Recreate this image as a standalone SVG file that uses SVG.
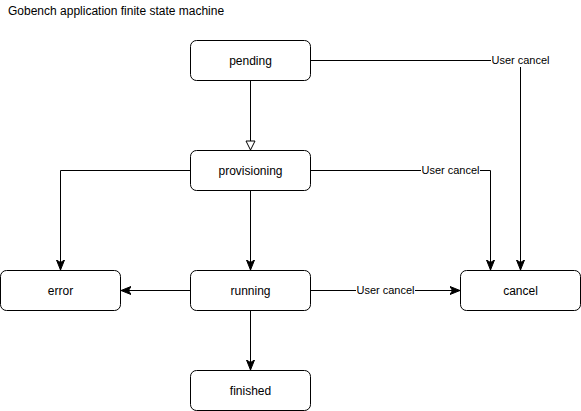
<svg xmlns="http://www.w3.org/2000/svg" width="581" height="411" viewBox="0 0 581 411">
  <style>
    .box { fill: #ffffff; stroke: #000000; stroke-width: 1; }
    .lbl { font-family: "Liberation Sans", Arial, sans-serif; font-size: 12px; fill: #000000; text-anchor: middle; }
    .edge { fill: none; stroke: #000000; stroke-width: 1; }
    .elbl { font-family: "Liberation Sans", Arial, sans-serif; font-size: 11px; fill: #000000; text-anchor: middle; }
    .bg { fill: #ffffff; }
  </style>
  <defs>
    <marker id="arrow" viewBox="0 0 10 10" refX="10" refY="5" markerWidth="10" markerHeight="10" markerUnits="userSpaceOnUse" orient="auto">
      <path d="M0,1 L10,5 L0,9 L2.5,5 Z" fill="#000000" stroke="#000000" stroke-width="1"/>
    </marker>
    <marker id="hollow" viewBox="0 0 12 12" refX="10" refY="6" markerWidth="12" markerHeight="12" markerUnits="userSpaceOnUse" orient="auto">
      <path d="M1,1.5 L10,6 L1,10.5 Z" fill="#ffffff" stroke="#000000" stroke-width="1"/>
    </marker>
  </defs>

  <text x="8" y="15" font-family="'Liberation Sans', Arial, sans-serif" font-size="12px" fill="#000000">Gobench application finite state machine</text>

  <g id="connectors">
    <path class="edge" d="M250.5,80.5 L250.5,150" marker-end="url(#hollow)"/>
    <path class="edge" d="M310.5,60.5 L520.5,60.5 L520.5,270" marker-end="url(#arrow)"/>
    <path class="edge" d="M310.5,170.5 L490.5,170.5 L490.5,270" marker-end="url(#arrow)"/>
    <path class="edge" d="M190.5,170.5 L60.5,170.5 L60.5,270" marker-end="url(#arrow)"/>
    <path class="edge" d="M250.5,190.5 L250.5,270" marker-end="url(#arrow)"/>
    <path class="edge" d="M190.5,290.5 L121,290.5" marker-end="url(#arrow)"/>
    <path class="edge" d="M310.5,290.5 L460,290.5" marker-end="url(#arrow)"/>
    <path class="edge" d="M250.5,310.5 L250.5,370" marker-end="url(#arrow)"/>

    <rect class="bg" x="491" y="53" width="59" height="14"/>
    <text class="elbl" x="520.5" y="64">User cancel</text>
    <rect class="bg" x="421" y="163" width="59" height="14"/>
    <text class="elbl" x="450.5" y="174">User cancel</text>
    <rect class="bg" x="356" y="283" width="59" height="14"/>
    <text class="elbl" x="385.5" y="294">User cancel</text>
  </g>

  <g id="pending">
    <rect class="box" x="190.5" y="40.5" width="120" height="40" rx="6" ry="6"/>
    <text class="lbl" x="250.5" y="65">pending</text>
  </g>
  <g id="provisioning">
    <rect class="box" x="190.5" y="150.5" width="120" height="40" rx="6" ry="6"/>
    <text class="lbl" x="250.5" y="175">provisioning</text>
  </g>
  <g id="running">
    <rect class="box" x="190.5" y="270.5" width="120" height="40" rx="6" ry="6"/>
    <text class="lbl" x="250.5" y="295">running</text>
  </g>
  <g id="error">
    <rect class="box" x="0.5" y="270.5" width="120" height="40" rx="6" ry="6"/>
    <text class="lbl" x="60.5" y="295">error</text>
  </g>
  <g id="cancel">
    <rect class="box" x="460.5" y="270.5" width="120" height="40" rx="6" ry="6"/>
    <text class="lbl" x="520.5" y="295">cancel</text>
  </g>
  <g id="finished">
    <rect class="box" x="190.5" y="370.5" width="120" height="40" rx="6" ry="6"/>
    <text class="lbl" x="250.5" y="395">finished</text>
  </g>
</svg>
